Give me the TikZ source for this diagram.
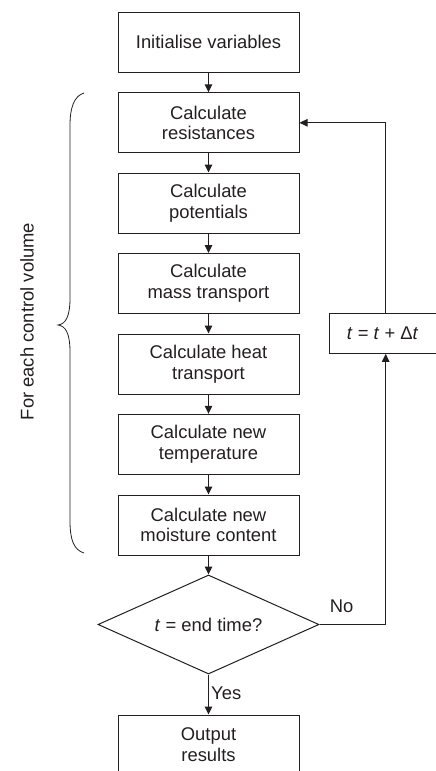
\documentclass[tikz,border=0pt]{standalone}
\usepackage{fontspec}
\setmainfont{Liberation Sans}
\usetikzlibrary{shapes.geometric,arrows.meta}
\definecolor{ink}{RGB}{35,31,32}
\begin{document}
\begin{tikzpicture}[x=1pt,y=-1pt,
  every node/.style={text=ink,font=\fontsize{18.4}{20.7}\selectfont},
  stepbox/.style={draw=ink,line width=1pt,minimum width=181pt,minimum height=60pt,inner sep=0pt,align=center},
  decbox/.style={draw=ink,line width=1pt,shape=diamond,minimum width=221pt,minimum height=99pt,aspect=2.23,inner sep=0pt},
  arr/.style={draw=ink,line width=1pt,-{Triangle[length=8pt,width=7.5pt]}},
  ln/.style={draw=ink,line width=1pt}]
\useasboundingbox (0,0) rectangle (436,771);
\clip (0,0) rectangle (436,771);
\node[stepbox] (b1) at (208.5,42.3) {Initialise variables};
\node[stepbox] (b2) at (208.5,122.8) {Calculate\\resistances};
\node[stepbox] (b3) at (208.5,203) {Calculate\\potentials};
\node[stepbox] (b4) at (208.5,283.5) {Calculate\\mass transport};
\node[stepbox] (b5) at (208.5,364) {Calculate heat\\transport};
\node[stepbox] (b6) at (208.5,444.3) {Calculate new\\temperature};
\node[stepbox] (b7) at (208.5,525) {Calculate new\\moisture content};
\node[decbox] (dec) at (208.5,624.5) {\textit{t} = end time?};
\node[stepbox] (out) at (208.5,745) {Output\\results};
\node[draw=ink,line width=1pt,minimum width=112.8pt,minimum height=40pt,inner sep=0pt] (tb) at (385.7,333.3) {\hspace*{-6pt}\textit{t} = \textit{t} + Δ\textit{t}};
\draw[arr] (b1) -- (b2);
\draw[arr] (b2) -- (b3);
\draw[arr] (b3) -- (b4);
\draw[arr] (b4) -- (b5);
\draw[arr] (b5) -- (b6);
\draw[arr] (b6) -- (b7);
\draw[arr] (b7) -- (dec);
\draw[arr] (dec) -- (out);
\draw[arr] (dec.east) -| (tb.south);
\draw[arr] (tb.north) |- (b2.east);
\node (no) at (341.7,606) {No};
\node[anchor=west,inner sep=0pt] (yes) at (211,693) {Yes};
\draw[draw=ink,line width=0.8pt] (84,93) .. controls (74,96) and (70,108) .. (70,125) -- (70,298) .. controls (70,316) and (66,324) .. (58,325) .. controls (66,326) and (70,334) .. (70,352) -- (70,521) .. controls (70,540) and (74,550) .. (84,553);
\node[rotate=90] (lab) at (27,321.5) {For each control volume};
\end{tikzpicture}
\end{document}
